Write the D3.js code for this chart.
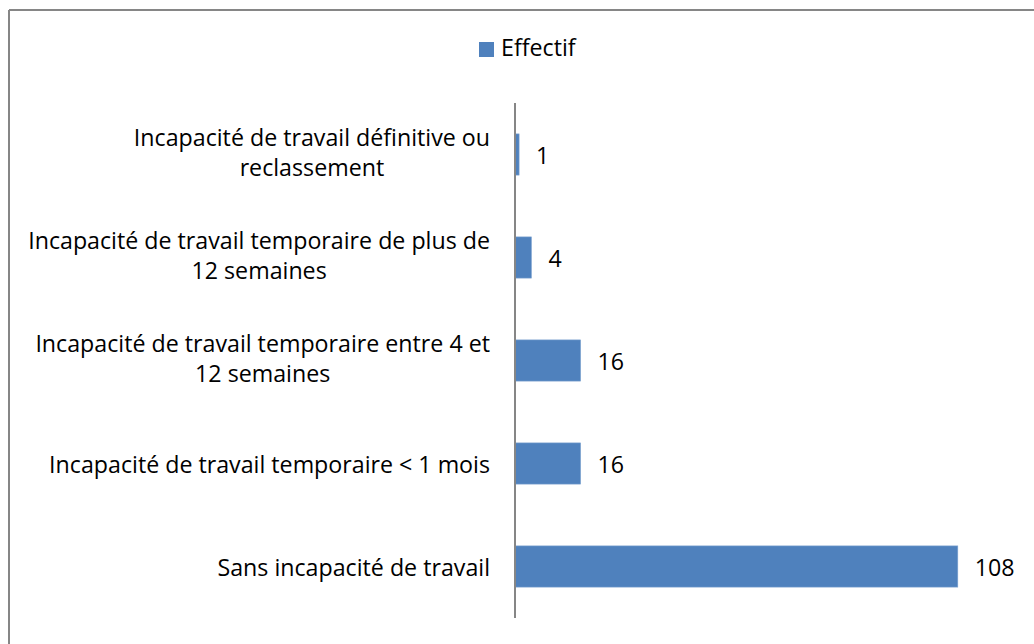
<!DOCTYPE html>
<html>
<head>
<meta charset="utf-8">
<script src="https://cdn.jsdelivr.net/npm/d3@7"></script>
<style>
  html, body { margin: 0; padding: 0; background: #fff; }
  svg { display: block; }
  text { font-family: "Open Sans", sans-serif; font-weight: 400; fill: #000; font-variant-ligatures: none; }
</style>
</head>
<body>
<svg id="chart" width="1034" height="644"></svg>
<script>
const categories = [
  "Incapacité de travail définitive ou\nreclassement",
  "Incapacité de travail temporaire de plus de\n12 semaines",
  "Incapacité de travail temporaire entre 4 et\n12 semaines",
  "Incapacité de travail temporaire < 1 mois",
  "Sans incapacité de travail"
];
const values = [1, 4, 16, 16, 108];
const seriesName = "Effectif";

const W = 1034, H = 644;
const color = "#4F81BD";
const gray = "#868686";

const svg = d3.select("#chart");

// fit font size so text width resembles the original (Calibri) metrics
const probe = svg.append("text").attr("font-size", 100)
  .text("Incapacité de travail temporaire de plus de");
const probeW = probe.node().getComputedTextLength();
probe.remove();
const fs = Math.min(27, 100 * 462 / probeW);

// outer border (only top and left visible in the crop)
svg.append("line").attr("x1", 9).attr("y1", 10).attr("x2", W).attr("y2", 10)
  .attr("stroke", gray).attr("stroke-width", 2);
svg.append("line").attr("x1", 9).attr("y1", 10).attr("x2", 9).attr("y2", H)
  .attr("stroke", gray).attr("stroke-width", 2);

const x = d3.scaleLinear().domain([0, 120]).range([515, 1007]);
const y = d3.scaleBand().domain(categories).range([103, 618])
  .paddingInner(0.6).paddingOuter(0.3);

// bars
svg.append("g").selectAll("rect").data(values).join("rect")
  .attr("x", x(0))
  .attr("y", (d, i) => y(categories[i]))
  .attr("width", d => x(d) - x(0))
  .attr("height", y.bandwidth())
  .attr("fill", color)
  .attr("stroke", "#7FA3CF").attr("stroke-width", 0.6);

// value labels
svg.append("g").selectAll("text").data(values).join("text")
  .attr("x", d => x(d) + 17)
  .attr("y", (d, i) => y(categories[i]) + y.bandwidth() / 2 + 9)
  .attr("font-size", fs)
  .text(d => d);

// vertical category axis line
svg.append("line")
  .attr("x1", x(0)).attr("x2", x(0))
  .attr("y1", y.range()[0]).attr("y2", y.range()[1])
  .attr("stroke", gray).attr("stroke-width", 2);

// category labels: lines centred within a block right-aligned to 490
const labelRight = 490;
const lineH = 30;
categories.forEach(cat => {
  const lines = cat.split("\n");
  const g = svg.append("g");
  const cy = y(cat) + y.bandwidth() / 2;
  const texts = lines.map((ln, j) => g.append("text")
    .attr("font-size", fs)
    .attr("text-anchor", "middle")
    .text(ln));
  const maxW = d3.max(texts, t => t.node().getComputedTextLength());
  const cx = labelRight - maxW / 2;
  const base0 = lines.length === 1 ? cy + 9 : cy + 6 - (lines.length - 1) * lineH / 2;
  texts.forEach((t, j) => t.attr("x", cx).attr("y", base0 + j * lineH));
});

// legend
const lg = svg.append("g");
lg.append("rect").attr("x", 479).attr("y", 42).attr("width", 15).attr("height", 15)
  .attr("fill", color);
lg.append("text").attr("x", 501).attr("y", 56).attr("font-size", fs).text(seriesName);
</script>
</body>
</html>
